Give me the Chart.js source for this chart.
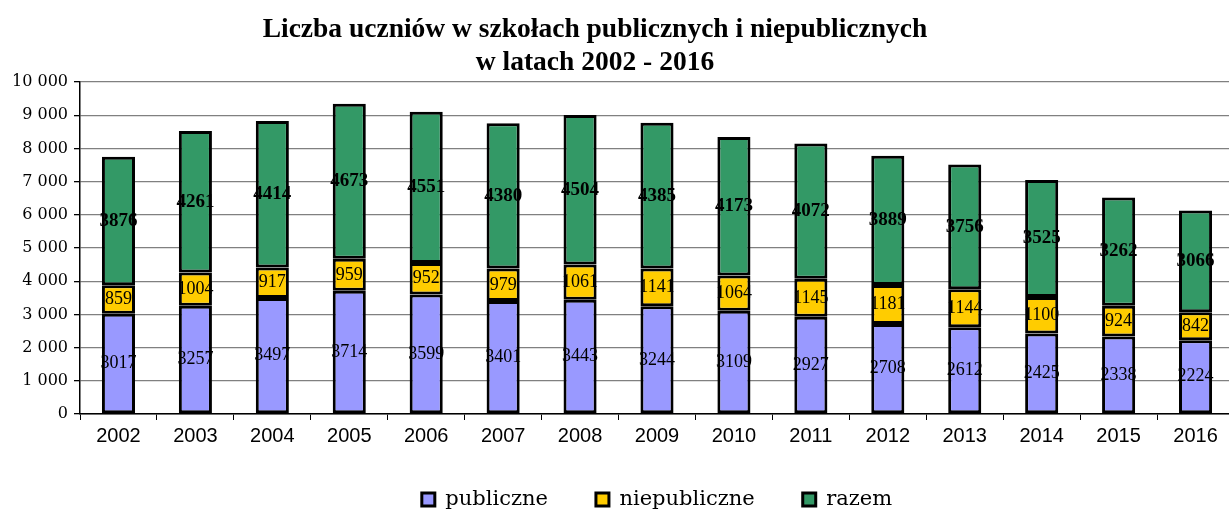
<!DOCTYPE html>
<html>
<head>
<meta charset="utf-8">
<script src="https://cdn.jsdelivr.net/npm/chart.js@4"></script>
<style>
    html, body { margin: 0; padding: 0; background: #fff; overflow: hidden; }
    .wrap { position: relative; width: 1229px; height: 511px; overflow: hidden; }
    .title {
        position: absolute; left: 0; top: 11px; width: 1190px;
        text-align: center; font-family: 'Liberation Serif', serif; font-weight: bold;
        font-size: 27.5px; line-height: 33px; color: #000;
    }
    canvas { position: absolute; left: 0; top: 0; }
</style>
</head>
<body>
<div class="wrap">
    <canvas id="chartCanvas" width="1314" height="511" style="width:1314px;height:511px"></canvas>
    <div class="title">Liczba uczniów w szkołach publicznych i niepublicznych<br>w latach 2002 - 2016</div>
</div>
<script>
// dane z wykresu
const years = ['2002', '2003', '2004', '2005', '2006', '2007', '2008', '2009', '2010', '2011', '2012', '2013', '2014', '2015', '2016']
const publiczne = [3017, 3257, 3497, 3714, 3599, 3401, 3443, 3244, 3109, 2927, 2708, 2612, 2425, 2338, 2224]
const niepubliczne = [859, 1004, 917, 959, 952, 979, 1061, 1141, 1064, 1145, 1181, 1144, 1100, 924, 842]
const razem = [3876, 4261, 4414, 4673, 4551, 4380, 4504, 4385, 4173, 4072, 3889, 3756, 3525, 3262, 3066]
const yTicks = [0, 1000, 2000, 3000, 4000, 5000, 6000, 7000, 8000, 9000, 10000]

const formatPl = (v) => {
    const s = String(v)
    return s.length > 3 ? s.slice(0, s.length - 3) + ' ' + s.slice(-3) : s
}

// etykiety wartosci w srodku slupkow
const barLabels = {
    id: 'barLabels',
    afterDatasetsDraw(chart) {
        const ctx = chart.ctx
        chart.data.datasets.forEach((ds, i) => {
            const meta = chart.getDatasetMeta(i)
            ctx.save()
            ctx.font = i === 2 ? 'bold 19px "Liberation Serif"' : '18px "Liberation Serif"'
            ctx.fillStyle = '#000'
            ctx.textAlign = 'center'
            ctx.textBaseline = 'middle'
            meta.data.forEach((bar, j) => {
                ctx.fillText(ds.data[j], bar.x, (bar.y + bar.base) / 2)
            })
            ctx.restore()
        })
    }
}

// legenda: niska ramka, przesunieta nizej i wysrodkowana pod obszarem wykresu
const legendFix = {
    id: 'legendFix',
    afterInit(chart) {
        const legend = chart.legend
        const fit = legend.fit
        legend.fit = function () {
            fit.call(this)
            this.height = 59
        }
    },
    afterLayout(chart) {
        const legend = chart.legend
        legend.top = 441
        legend.bottom = 511
        legend.left += 40
        legend.right += 40
    }
}

const chartData = {
    labels: years,
    datasets: [
        { label: 'publiczne', data: publiczne, backgroundColor: '#9999FF' },
        { label: 'niepubliczne', data: niepubliczne, backgroundColor: '#FFCC00' },
        { label: 'razem', data: razem, backgroundColor: '#339966' }
    ].map(d => Object.assign(d, {
        borderColor: '#000',
        borderWidth: 3,
        borderSkipped: false,
        barPercentage: 0.43,
        categoryPercentage: 1
    }))
}

const config = {
    type: 'bar',
    data: chartData,
    plugins: [barLabels, legendFix],
    options: {
        responsive: false,
        animation: false,
        layout: { padding: { top: 82, right: 80, bottom: 0, left: 0 } },
        plugins: {
            title: { display: false },
            tooltip: { enabled: false },
            legend: {
                position: 'bottom',
                labels: {
                    font: { family: 'DejaVu Serif', size: 21 },
                    color: '#000',
                    boxWidth: 13,
                    boxHeight: 13,
                    padding: 48,
                    useBorderRadius: false
                }
            }
        },
        scales: {
            x: {
                stacked: true,
                grid: {
                    offset: true,
                    drawOnChartArea: false,
                    color: '#000',
                    tickLength: 6
                },
                border: { color: '#000', width: 1.5 },
                ticks: {
                    color: '#000',
                    font: { family: 'Liberation Sans', size: 20 },
                    padding: 4,
                    maxRotation: 0
                }
            },
            y: {
                stacked: true,
                min: 0,
                max: 10000,
                afterFit: (scale) => { scale.width = 80 },
                afterBuildTicks: (scale) => { scale.ticks = yTicks.map(v => ({ value: v })) },
                grid: {
                    color: '#808080',
                    tickColor: '#000',
                    tickLength: 6,
                    lineWidth: 1.3
                },
                border: { color: '#000', width: 1.5 },
                ticks: {
                    color: '#000',
                    font: { family: 'DejaVu Serif', size: 16 },
                    padding: 6,
                    callback: (v) => formatPl(v)
                }
            }
        }
    }
}

const myChart = new Chart(document.getElementById('chartCanvas'), config)
</script>
</body>
</html>
